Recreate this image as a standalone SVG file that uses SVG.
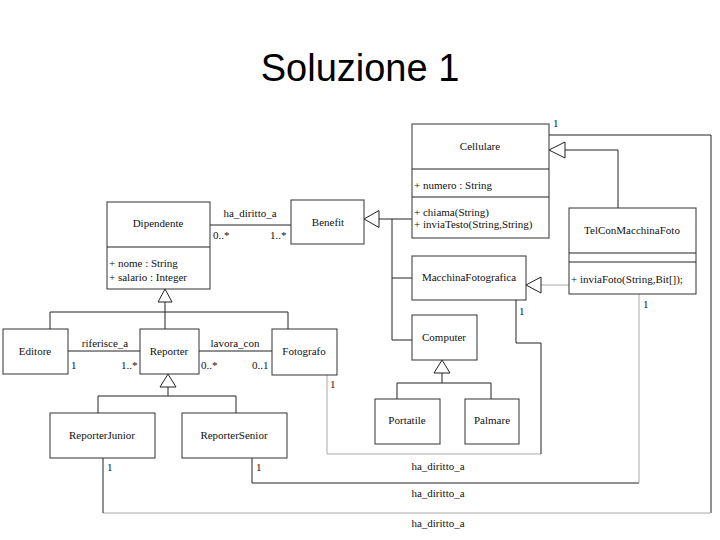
<svg xmlns="http://www.w3.org/2000/svg" width="720" height="540" viewBox="0 0 720 540">
<style>
.box{fill:#fff;stroke:#333;stroke-width:1}
.ln{fill:none;stroke:#222;stroke-width:1}
.lt{fill:none;stroke:#aaa;stroke-width:1}
.tri{fill:#fff;stroke:#222;stroke-width:1}
text{font-family:"Liberation Serif","Times New Roman",serif;font-size:11px;fill:#111}
.c{text-anchor:middle}
.title{font-family:"Liberation Sans",Arial,sans-serif;font-size:38px;fill:#000}
</style>
<rect width="720" height="540" fill="#fff"/>
<text class="title c" x="360" y="81">Soluzione 1</text>

<g id="connectors">
  <!-- Dipendente - Benefit -->
  <line class="ln" x1="210" y1="225" x2="291" y2="225"/>
  <text class="c" x="250" y="217">ha_diritto_a</text>
  <text x="213" y="239">0..*</text>
  <text x="270" y="239">1..*</text>
  <!-- generalization Dipendente -->
  <polyline class="ln" points="50,329 50,312 288,312 288,329"/>
  <line class="ln" x1="165" y1="302" x2="165" y2="329"/>
  <polygon class="tri" points="165,289 158,302 172,302"/>
  <!-- Editore - Reporter -->
  <line class="ln" x1="68" y1="351" x2="140" y2="351"/>
  <text class="c" x="105" y="347">riferisce_a</text>
  <text x="71" y="369">1</text>
  <text x="121" y="369">1..*</text>
  <!-- Reporter - Fotografo -->
  <line class="ln" x1="199" y1="351" x2="272" y2="351"/>
  <text class="c" x="235" y="347">lavora_con</text>
  <text x="201" y="369">0..*</text>
  <text x="252" y="369">0..1</text>
  <!-- generalization Reporter -->
  <polyline class="ln" points="98,413 98,396 236,396 236,413"/>
  <line class="ln" x1="168" y1="387" x2="168" y2="396"/>
  <polygon class="tri" points="168,374 160,387 176,387"/>
  <!-- generalization Benefit -->
  <line class="ln" x1="379" y1="219" x2="412" y2="219"/>
  <polyline class="ln" points="392,219 392,340 412,340"/>
  <line class="ln" x1="392" y1="278" x2="412" y2="278"/>
  <polygon class="tri" points="364,219 379,210.5 379,227.5"/>
  <!-- generalization Computer -->
  <polyline class="ln" points="397,399 397,383 491,383 491,399"/>
  <line class="ln" x1="442" y1="373" x2="442" y2="383"/>
  <polygon class="tri" points="442,360 434,373 450,373"/>
  <!-- TelCon -> Cellulare -->
  <polyline class="ln" points="565,150 618,150 618,208"/>
  <polygon class="tri" points="549,150 565,142 565,158"/>
  <!-- TelCon -> MacchinaFotografica -->
  <line class="lt" x1="541" y1="285" x2="569" y2="285"/>
  <polygon class="tri" points="526,285 541,277 541,293"/>
  <!-- Cellulare - ReporterJunior -->
  <polyline class="ln" points="549,135 711,135 711,513"/>
  <line class="lt" x1="711" y1="513" x2="103" y2="513"/>
  <line class="ln" x1="103" y1="513" x2="103" y2="458"/>
  <text x="553" y="127">1</text>
  <text x="107" y="471">1</text>
  <text class="c" x="438" y="527">ha_diritto_a</text>
  <!-- ReporterSenior - TelCon -->
  <polyline class="ln" points="252,458 252,483 639,483"/>
  <line class="lt" x1="639" y1="483" x2="639" y2="294"/>
  <text x="256" y="471">1</text>
  <text x="643" y="308">1</text>
  <text class="c" x="438" y="497">ha_diritto_a</text>
  <!-- Fotografo - MacchinaFotografica -->
  <polyline class="lt" points="327,375 327,454 541,454"/>
  <polyline class="ln" points="541,454 541,343 516,343 516,300"/>
  <text x="330" y="388">1</text>
  <text x="519" y="315">1</text>
  <text class="c" x="438" y="470">ha_diritto_a</text>
</g>

<g id="Cellulare">
  <rect class="box" x="412" y="124" width="137" height="114"/>
  <line class="ln" x1="412" y1="169" x2="549" y2="169"/>
  <line class="ln" x1="412" y1="197" x2="549" y2="197"/>
  <text class="c" x="480" y="150">Cellulare</text>
  <text x="414" y="189">+ numero : String</text>
  <text x="414" y="216">+ chiama(String)</text>
  <text x="414" y="228">+ inviaTesto(String,String)</text>
</g>
<g id="TelConMacchinaFoto">
  <rect class="box" x="569" y="208" width="127" height="86"/>
  <line class="ln" x1="569" y1="253" x2="696" y2="253"/>
  <line class="ln" x1="569" y1="262" x2="696" y2="262"/>
  <text class="c" x="632" y="234">TelConMacchinaFoto</text>
  <text x="571" y="283">+ inviaFoto(String,Bit[]);</text>
</g>
<g id="MacchinaFotografica">
  <rect class="box" x="412" y="256" width="114" height="44" stroke="#888"/>
  <text class="c" x="469" y="281">MacchinaFotografica</text>
</g>
<g id="Dipendente">
  <rect class="box" x="107" y="202" width="103" height="87"/>
  <line class="ln" x1="107" y1="247" x2="210" y2="247"/>
  <text class="c" x="158" y="227">Dipendente</text>
  <text x="109" y="267">+ nome : String</text>
  <text x="109" y="281">+ salario : Integer</text>
</g>
<g id="Benefit">
  <rect class="box" x="291" y="200" width="73" height="44" stroke="#888"/>
  <text class="c" x="328" y="226">Benefit</text>
</g>
<g id="Editore">
  <rect class="box" x="3" y="329" width="65" height="45" stroke="#888"/>
  <text class="c" x="35" y="355">Editore</text>
</g>
<g id="Reporter">
  <rect class="box" x="140" y="329" width="59" height="45"/>
  <text class="c" x="169" y="355">Reporter</text>
</g>
<g id="Fotografo">
  <rect class="box" x="272" y="329" width="65" height="46" stroke="#888"/>
  <text class="c" x="304" y="355">Fotografo</text>
</g>
<g id="ReporterJunior">
  <rect class="box" x="50" y="413" width="105" height="45" stroke="#666"/>
  <text class="c" x="102" y="439">ReporterJunior</text>
</g>
<g id="ReporterSenior">
  <rect class="box" x="182" y="413" width="105" height="45" stroke="#888"/>
  <text class="c" x="234" y="439">ReporterSenior</text>
</g>
<g id="Computer">
  <rect class="box" x="412" y="315" width="65" height="45"/>
  <text class="c" x="444" y="341">Computer</text>
</g>
<g id="Portatile">
  <rect class="box" x="375" y="399" width="65" height="45"/>
  <text class="c" x="407" y="424">Portatile</text>
</g>
<g id="Palmare">
  <rect class="box" x="465" y="399" width="54" height="45"/>
  <text class="c" x="492" y="424">Palmare</text>
</g>
</svg>
